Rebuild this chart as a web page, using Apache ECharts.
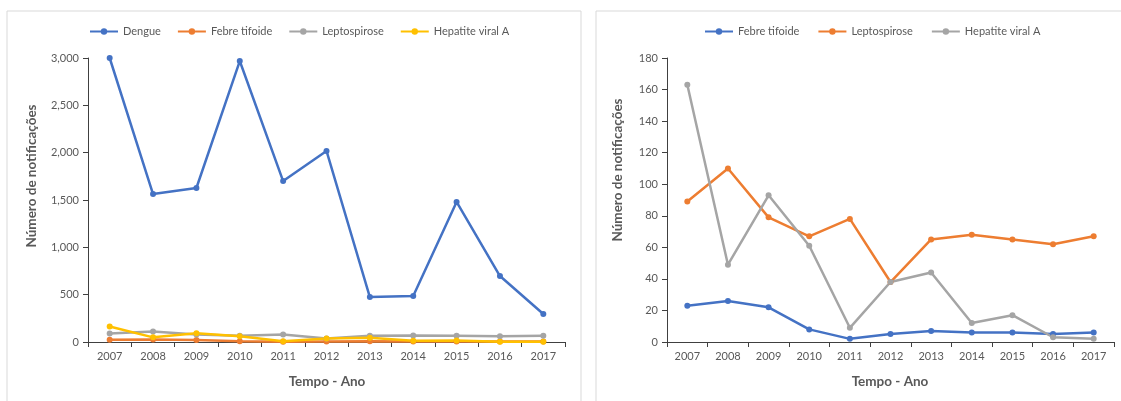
<!DOCTYPE html>
<html>
<head>
<meta charset="utf-8">
<script src="https://cdn.jsdelivr.net/npm/echarts@6/dist/echarts.min.js"></script>
<style>
  html, body { margin: 0; padding: 0; background: #fff; }
  #left { position: absolute; left: 0; top: 0; width: 588px; height: 401px; }
  #right { position: absolute; left: 588px; top: 0; width: 533px; height: 401px; }
</style>
</head>
<body>
<div id="left"></div>
<div id="right"></div>
<script>
// Notificações por ano
const anos = ['2007', '2008', '2009', '2010', '2011', '2012', '2013', '2014', '2015', '2016', '2017'];
const dengue = [3000, 1563, 1627, 2968, 1700, 2018, 475, 486, 1479, 697, 296];
const febreTifoide = [23, 26, 22, 8, 2, 5, 7, 6, 6, 5, 6];
const leptospirose = [89, 110, 79, 67, 78, 38, 65, 68, 65, 62, 67];
const hepatiteA = [163, 49, 93, 61, 9, 38, 44, 12, 17, 3, 2];

const FONT = 'Lato, "Open Sans", sans-serif';
const TXT = '#595959';
const AXIS = '#404040';
const C = { blue: '#4472C4', orange: '#ED7D31', gray: '#A5A5A5', yellow: '#FFC000' };

function serie(name, data, color) {
  return {
    name, type: 'line', data, clip: true,
    symbol: 'circle', symbolSize: 6,
    lineStyle: { width: 2.5, color },
    itemStyle: { color },
    emphasis: { disabled: true }
  };
}

function axes(yMax, yInterval, fmt) {
  return {
    xAxis: {
      type: 'category', data: anos, boundaryGap: true,
      axisLine: { lineStyle: { color: AXIS, width: 1 } },
      axisTick: { show: true, length: 5, lineStyle: { color: AXIS } },
      axisLabel: { color: TXT, fontFamily: FONT, fontSize: 11, margin: 9 },
      splitLine: { show: false }
    },
    yAxis: {
      type: 'value', min: 0, max: yMax, interval: yInterval,
      axisLine: { show: true, lineStyle: { color: AXIS, width: 1 } },
      axisTick: { show: true, length: 5, lineStyle: { color: AXIS } },
      axisLabel: { color: TXT, fontFamily: FONT, fontSize: 11, margin: 9, formatter: fmt },
      splitLine: { show: false }
    }
  };
}

function frame(x, w) {
  return { type: 'rect', shape: { x, y: 11, width: w, height: 420 },
    style: { fill: 'none', stroke: '#D9D9D9', lineWidth: 1 }, silent: true, z: -10 };
}

function titles(xCenter, yX, yY) {
  return [
    { type: 'text', x: xCenter, y: 382,
      style: { text: 'Tempo - Ano', fill: TXT, font: 'bold 13.5px ' + FONT,
        align: 'center', verticalAlign: 'middle' } },
    { type: 'text', x: yX, y: yY, rotation: Math.PI / 2,
      style: { text: 'Número de notificações', fill: TXT, font: 'bold 13.5px ' + FONT,
        align: 'center', verticalAlign: 'middle' } }
  ];
}

function legend(left, names, gap) {
  return {
    left, top: 21, itemWidth: 28, itemHeight: 8, itemGap: gap,
    data: names,
    textStyle: { color: TXT, fontFamily: FONT, fontSize: 11 },
    selectedMode: false
  };
}

// Painel esquerdo: as quatro doenças
const leftChart = echarts.init(document.getElementById('left'), null, { renderer: 'canvas' });
leftChart.setOption(Object.assign({
  animation: false,
  grid: { left: 88, right: 23, top: 58, bottom: 59 },
  legend: legend(84, ['Dengue', 'Febre tifoide', 'Leptospirose', 'Hepatite viral A'], 16),
  graphic: [frame(7, 574)].concat(titles(327, 32, 176)),
  series: [
    serie('Dengue', dengue, C.blue),
    serie('Febre tifoide', febreTifoide, C.orange),
    serie('Leptospirose', leptospirose, C.gray),
    serie('Hepatite viral A', hepatiteA, C.yellow)
  ]
}, axes(3000, 500, v => v.toLocaleString('en-US'))));

// Painel direito: sem dengue
const rightChart = echarts.init(document.getElementById('right'), null, { renderer: 'canvas' });
rightChart.setOption(Object.assign({
  animation: false,
  grid: { left: 79, right: 7, top: 58, bottom: 59 },
  legend: legend(111, ['Febre tifoide', 'Leptospirose', 'Hepatite viral A'], 18),
  graphic: [frame(8, 560)].concat(titles(302, 30, 170)),
  series: [
    serie('Febre tifoide', febreTifoide, C.blue),
    serie('Leptospirose', leptospirose, C.orange),
    serie('Hepatite viral A', hepatiteA, C.gray)
  ]
}, axes(180, 20, v => String(v))));
</script>
</body>
</html>
